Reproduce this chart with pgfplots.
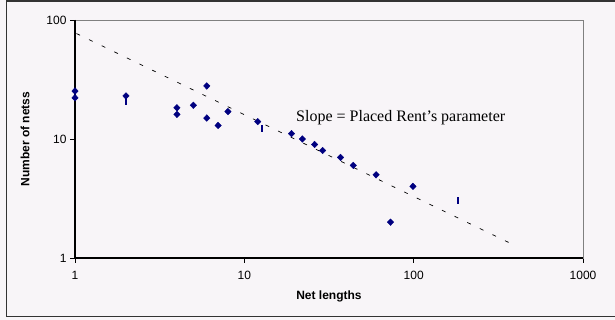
\documentclass[border=0pt]{standalone}
\usepackage{pgfplots}
\pgfplotsset{compat=1.18}
\usepackage{fontspec}
\setmainfont{Liberation Serif}
\newfontfamily\arial{Liberation Sans}
\definecolor{bg}{RGB}{248,245,248}
\definecolor{navy}{RGB}{0,0,128}
\begin{document}
\begin{tikzpicture}
\useasboundingbox (0,0) rectangle (615bp,320bp);
\fill[bg] (0,0) rectangle (615bp,320bp);
\draw[line width=1.6bp, black!80] (620bp,319.2bp) -- (6.5bp,319.2bp) -- (6.5bp,3.3bp) -- (620bp,3.3bp);
\begin{axis}[
  at={(75bp,62bp)}, anchor=south west,
  scale only axis, width=508bp, height=238bp,
  xmode=log, ymode=log, xmin=1, xmax=1000, ymin=1, ymax=100,
  xtick={1,10,100,1000}, xticklabels={1,10,100,1000},
  ytick={1,10,100}, yticklabels={1,10,100},
  minor tick length=0pt, minor tick style={draw=none},
  xtick pos=bottom, ytick pos=left, tick align=outside, major tick length=5bp,
  tick style={black, line width=0.8bp},
  axis line style={draw=gray, line width=0.8bp},
  /pgf/number format/assume math mode=true,
  ticklabel style={font=\arial\fontsize{12bp}{14bp}\selectfont},
  xticklabel style={yshift=-5bp},
  xlabel={Net lengths},
  ylabel={Number of netss},
  label style={font=\arial\bfseries\fontsize{12bp}{14bp}\selectfont},
  xlabel style={at={(axis description cs:0.5,-0.16)}, anchor=center},
  ylabel style={at={(axis description cs:-0.0984,0.5)}, anchor=center},
  clip=false,
]
\draw[black, line width=1.2bp] (rel axis cs:0,1) -- (rel axis cs:0,0) -- (rel axis cs:1,0);
\addplot[black, line width=0.7bp, dash pattern=on 4bp off 10bp] coordinates {(1.02,77) (385,1.3)};
\addplot[only marks, mark=diamond*, mark size=3.3bp, navy, mark options={fill=navy, xscale=1.3}] coordinates {
(1,25.3) (1,22.2) (2,23) (4,18.3) (4,16.1) (5,19.2) (6,27.9) (6,15) (7,13) (8,17)
(12,14) (19,11.1) (22,10) (26,9) (29,8) (37,7) (44,6) (60,5) (99,4) (73,2)};
\addplot[only marks, mark=|, mark size=3.5bp, navy, mark options={line width=2bp}] coordinates {
(2,20.8) (12.8,12.3) (182,3.03)};
\node[anchor=west, inner sep=0pt, font=\fontsize{16bp}{18bp}\selectfont] at (axis cs:20.2,15) {Slope = Placed Rent's parameter};
\end{axis}
\end{tikzpicture}
\end{document}
